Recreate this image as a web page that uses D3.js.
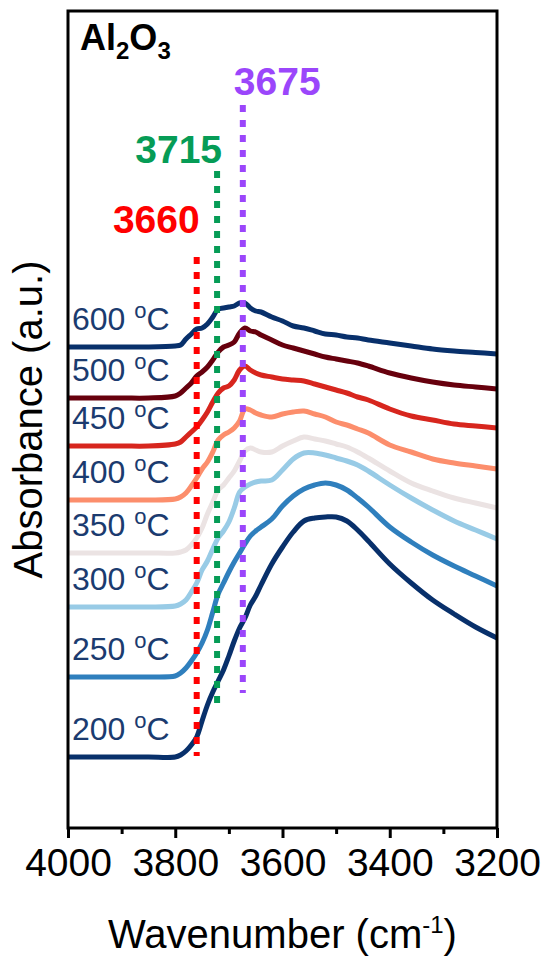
<!DOCTYPE html>
<html>
<head>
<meta charset="utf-8">
<script src="https://cdn.jsdelivr.net/npm/d3@7"></script>
<style>
  body { margin: 0; background: #fff; }
  text { font-family: "Liberation Sans", Arial, sans-serif; }
</style>
</head>
<body>
<script>
// wavenumber grid (cm-1), shared by all spectra
const wavenumbers = [4000, 3900, 3850, 3800, 3790, 3780, 3770, 3760, 3750, 3740, 3730, 3720,
  3710, 3700, 3690, 3680, 3670, 3660, 3650, 3640, 3620, 3600, 3580, 3560, 3540, 3520,
  3500, 3480, 3460, 3440, 3400, 3360, 3320, 3280, 3240, 3200];

// absorbance (a.u., stacked with offsets as in the figure)
const abs600 = [4.81, 4.81, 4.81, 4.82, 4.83, 4.89, 4.94, 4.99, 5.00, 5.04, 5.11, 5.19, 5.20, 5.21, 5.22, 5.25, 5.25, 5.20,
  5.17, 5.16, 5.11, 5.07, 5.02, 5.00, 4.97, 4.94, 4.93, 4.91, 4.90, 4.88, 4.85, 4.82, 4.79, 4.77, 4.755, 4.74];
const abs500 = [4.30, 4.30, 4.30, 4.32, 4.35, 4.40, 4.45, 4.52, 4.56, 4.61, 4.68, 4.76, 4.81, 4.83, 4.86, 4.95, 5.00, 4.97,
  4.96, 4.93, 4.88, 4.83, 4.80, 4.77, 4.74, 4.71, 4.69, 4.67, 4.65, 4.62, 4.55, 4.50, 4.46, 4.43, 4.41, 4.39];
const abs450 = [3.82, 3.82, 3.82, 3.84, 3.86, 3.91, 3.96, 4.01, 4.08, 4.16, 4.26, 4.35, 4.40, 4.42, 4.48, 4.58, 4.62, 4.58,
  4.55, 4.53, 4.51, 4.49, 4.48, 4.47, 4.44, 4.41, 4.38, 4.35, 4.31, 4.28, 4.19, 4.12, 4.08, 4.04, 4.02, 4.00];
const abs400 = [3.28, 3.28, 3.28, 3.29, 3.31, 3.35, 3.42, 3.50, 3.59, 3.66, 3.76, 3.88, 3.93, 3.96, 4.00, 4.07, 4.19, 4.18,
  4.15, 4.13, 4.11, 4.14, 4.16, 4.17, 4.14, 4.11, 4.06, 4.03, 3.99, 3.95, 3.83, 3.76, 3.69, 3.65, 3.62, 3.59];
const abs350 = [2.75, 2.75, 2.75, 2.75, 2.76, 2.78, 2.83, 2.90, 3.00, 3.14, 3.26, 3.38, 3.43, 3.50, 3.57, 3.67, 3.77, 3.80,
  3.78, 3.76, 3.76, 3.82, 3.87, 3.91, 3.89, 3.87, 3.84, 3.81, 3.76, 3.70, 3.57, 3.45, 3.37, 3.30, 3.25, 3.20];
const abs300 = [2.21, 2.21, 2.21, 2.22, 2.24, 2.28, 2.36, 2.45, 2.58, 2.67, 2.79, 2.90, 2.97, 3.06, 3.20, 3.36, 3.41, 3.44,
  3.46, 3.47, 3.48, 3.58, 3.69, 3.75, 3.75, 3.73, 3.70, 3.67, 3.63, 3.57, 3.43, 3.30, 3.18, 3.07, 2.98, 2.89];
const abs250 = [1.51, 1.51, 1.51, 1.52, 1.55, 1.60, 1.67, 1.75, 1.85, 1.98, 2.16, 2.34, 2.45, 2.56, 2.66, 2.75, 2.84, 2.92,
  2.97, 3.01, 3.09, 3.22, 3.32, 3.39, 3.43, 3.45, 3.43, 3.38, 3.30, 3.21, 3.01, 2.86, 2.73, 2.62, 2.52, 2.42];
const abs200 = [0.71, 0.71, 0.71, 0.71, 0.73, 0.77, 0.83, 0.91, 1.07, 1.23, 1.36, 1.47, 1.58, 1.72, 1.87, 2.00, 2.10, 2.23,
  2.32, 2.43, 2.64, 2.81, 2.96, 3.07, 3.10, 3.11, 3.11, 3.07, 2.98, 2.87, 2.64, 2.45, 2.28, 2.14, 2.01, 1.90];

const temps = ["600", "500", "450", "400", "350", "300", "250", "200"];
const spectra = [abs600, abs500, abs450, abs400, abs350, abs300, abs250, abs200];
const colors = ["#08306b", "#67000d", "#d7261e", "#fc8e6c", "#ebe3e3", "#98cbe6", "#2f7fbd", "#08306b"];

// marked bands: label text, line position, line top (a.u.), line bottom (a.u.)
const bandLabels = ["3660", "3715", "3675"];
const bandPos = [3760, 3722, 3674];
const bandTop = [5.71, 6.57, 7.23];
const bandBottom = [0.72, 1.20, 1.35];
const bandColors = ["#ff0000", "#069c56", "#9b46fb"];

const xTicks = [4000, 3800, 3600, 3400, 3200];
const xMinor = [3900, 3700, 3500, 3300];

const w = 555, h = 958;
const padLeft = 68, padRight = 497, padTop = 11, padBottom = 828;

const svg = d3.select("body").append("svg")
  .attr("width", w)
  .attr("height", h);

svg.append("rect").attr("width", w).attr("height", h).attr("fill", "#fff");

const xScale = d3.scaleLinear().domain([4000, 3200]).range([padLeft, padRight]);
const yScale = d3.scaleLinear().domain([0, 8.17]).range([padBottom, padTop]);

const line = d3.line()
  .x((d, i) => xScale(wavenumbers[i]))
  .y(d => yScale(d))
  .curve(d3.curveCatmullRom.alpha(0.5));

// spectra
svg.selectAll("path.spec")
  .data(spectra)
  .enter()
  .append("path")
    .attr("class", "spec")
    .attr("d", d => line(d))
    .attr("fill", "none")
    .attr("stroke", (d, i) => colors[i])
    .attr("stroke-width", 5)
    .attr("stroke-linejoin", "round");

// temperature labels
const lab = svg.selectAll("text.temp")
  .data(temps)
  .enter()
  .append("text")
    .attr("class", "temp")
    .attr("x", padLeft + 4)
    .attr("y", (d, i) => yScale(spectra[i][0]) - 17)
    .attr("fill", "#1b3b6f")
    .style("font-size", "32px");
lab.append("tspan").text(d => d + " ");
lab.append("tspan").attr("dy", -12).style("font-size", "22px").text("o");
lab.append("tspan").attr("dy", 12).text("C");

// dotted band lines
svg.selectAll("line.band")
  .data(bandPos)
  .enter()
  .append("line")
    .attr("class", "band")
    .attr("x1", d => xScale(d))
    .attr("x2", d => xScale(d))
    .attr("y1", (d, i) => yScale(bandTop[i]))
    .attr("y2", (d, i) => yScale(bandBottom[i]))
    .attr("stroke", (d, i) => bandColors[i])
    .attr("stroke-width", 6)
    .attr("stroke-dasharray", "7 8");

svg.append("text")
  .attr("x", xScale(bandPos[0]) + 3)
  .attr("y", yScale(bandTop[0]) - 24)
  .attr("text-anchor", "end")
  .attr("fill", bandColors[0])
  .style("font-size", "39px").style("font-weight", "bold")
  .text(bandLabels[0]);
svg.append("text")
  .attr("x", xScale(bandPos[1]) + 5)
  .attr("y", yScale(bandTop[1]) - 8)
  .attr("text-anchor", "end")
  .attr("fill", bandColors[1])
  .style("font-size", "39px").style("font-weight", "bold")
  .text(bandLabels[1]);
svg.append("text")
  .attr("x", xScale(bandPos[2]) - 9)
  .attr("y", yScale(bandTop[2]) - 10)
  .attr("fill", bandColors[2])
  .style("font-size", "39px").style("font-weight", "bold")
  .text(bandLabels[2]);

// x axis
const xAxis = d3.axisBottom(xScale).tickValues(xTicks).tickSize(10).tickPadding(10).tickFormat(d3.format("d"));
const gx = svg.append("g")
  .attr("transform", "translate(0," + padBottom + ")")
  .call(xAxis);
gx.select(".domain").remove();
gx.selectAll(".tick line").attr("stroke", "#000").attr("stroke-width", 3);
gx.selectAll(".tick text")
  .attr("fill", "#000")
  .style("font-size", "39px")
  .style("font-family", "'Liberation Sans', Arial, sans-serif");

const gxm = svg.append("g")
  .attr("transform", "translate(0," + padBottom + ")")
  .call(d3.axisBottom(xScale).tickValues(xMinor).tickSize(6).tickFormat(""));
gxm.select(".domain").remove();
gxm.selectAll(".tick line").attr("stroke", "#000").attr("stroke-width", 3);

// frame
svg.append("rect")
  .attr("x", padLeft)
  .attr("y", padTop)
  .attr("width", padRight - padLeft)
  .attr("height", padBottom - padTop)
  .attr("fill", "none")
  .attr("stroke", "#000")
  .attr("stroke-width", 3);

// axis titles
const xt = svg.append("text")
  .attr("x", (padLeft + padRight) / 2)
  .attr("y", 948)
  .attr("text-anchor", "middle")
  .style("font-size", "40px");
xt.append("tspan").text("Wavenumber (cm");
xt.append("tspan").attr("dy", -15).style("font-size", "24px").text("-1");
xt.append("tspan").attr("dy", 15).text(")");

svg.append("text")
  .attr("transform", "translate(42," + ((padTop + padBottom) / 2) + ") rotate(-90)")
  .attr("text-anchor", "middle")
  .style("font-size", "40px")
  .text("Absorbance (a.u.)");

// sample name
const title = svg.append("text")
  .attr("x", padLeft + 12)
  .attr("y", 50)
  .style("font-size", "36px")
  .style("font-weight", "bold");
title.append("tspan").text("Al");
title.append("tspan").attr("dy", 9).style("font-size", "24px").text("2");
title.append("tspan").attr("dy", -9).text("O");
title.append("tspan").attr("dy", 9).style("font-size", "24px").text("3");
</script>
</body>
</html>
